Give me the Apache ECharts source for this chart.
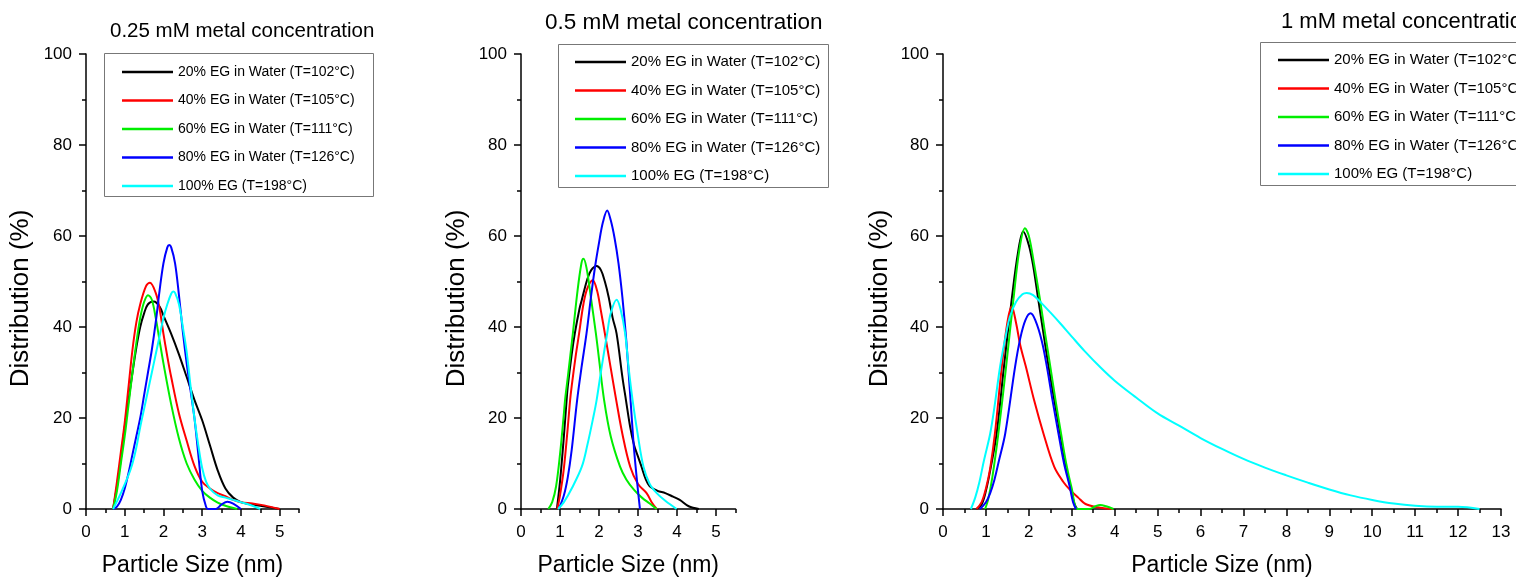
<!DOCTYPE html>
<html>
<head>
<meta charset="utf-8">
<script src="https://cdn.jsdelivr.net/npm/echarts@6/dist/echarts.min.js"></script>
<style>
html,body{margin:0;padding:0;background:#fff;}
#chart{width:1516px;height:578px;}
</style>
</head>
<body>
<div id="chart"></div>
<script>
// ---------- DATA ----------
const seriesNames = [
  '20% EG in Water (T=102\u00B0C)',
  '40% EG in Water (T=105\u00B0C)',
  '60% EG in Water (T=111\u00B0C)',
  '80% EG in Water (T=126\u00B0C)',
  '100% EG (T=198\u00B0C)'
];
const seriesColors = ['#000000', '#ff0000', '#00ee00', '#0000ff', '#00ffff'];
const panelTitles = ['0.25 mM metal concentration', '0.5 mM metal concentration', '1 mM metal concentration'];
const xAxisName = 'Particle Size (nm)';
const yAxisName = 'Distribution (%)';
const xTicksSmall = [0, 1, 2, 3, 4, 5];
const xMinorSmall = [0.5, 1.5, 2.5, 3.5, 4.5, 5.5];

// 0.25 mM
const p1_EG20 = [[0.7,0],[0.8,5],[0.9,11],[1.0,18],[1.1,24],[1.2,30],[1.3,35.5],[1.4,40],[1.5,43],[1.6,45],[1.75,45.6],[1.9,44.5],[2.0,42.5],[2.2,38.5],[2.4,34],[2.6,29],[2.8,24],[3.0,19.5],[3.2,14],[3.4,8.5],[3.6,4.5],[3.8,2.5],[4.0,1.5],[4.2,1.1],[4.5,0.7],[4.8,0.3],[5.0,0]];
const p1_EG40 = [[0.7,0],[0.8,6],[0.9,12.5],[1.0,19],[1.1,27],[1.2,35],[1.3,41],[1.4,45],[1.55,49],[1.65,49.7],[1.8,47.5],[1.9,44],[2.0,38.5],[2.1,33.5],[2.2,29],[2.4,21],[2.6,15],[2.8,9.5],[3.0,6],[3.2,4.5],[3.4,3.5],[3.6,2.8],[3.8,2],[4.0,1.5],[4.3,1.2],[4.6,0.8],[5.0,0]];
const p1_EG60 = [[0.7,0],[0.8,4],[0.9,10],[1.0,16],[1.1,23],[1.2,30],[1.3,36.5],[1.4,42],[1.5,45.5],[1.6,47],[1.7,46],[1.8,42],[1.9,37],[2.0,32],[2.2,23],[2.4,15.5],[2.6,10],[2.8,6.5],[3.0,4],[3.2,2.5],[3.4,1.4],[3.6,0.7],[3.9,0]];
const p1_EG80 = [[0.7,0],[0.8,0.5],[0.9,2],[1.0,4.5],[1.1,8],[1.2,12],[1.3,16],[1.4,20],[1.5,25],[1.6,30],[1.7,35],[1.8,41],[1.9,48],[2.0,54],[2.1,57.5],[2.15,58],[2.2,57.5],[2.3,54],[2.4,47],[2.5,39],[2.6,32],[2.7,26],[2.8,20],[2.9,12],[3.0,4],[3.1,0.5],[3.15,0],[3.35,0],[3.5,1],[3.65,1.6],[3.8,1.2],[4.0,0]];
const p1_EG100 = [[0.7,0],[0.9,3.5],[1.1,7.5],[1.2,10],[1.3,13.5],[1.4,18],[1.5,22],[1.6,26],[1.7,30],[1.8,34],[1.9,38],[2.0,42],[2.1,45],[2.2,47.3],[2.25,47.8],[2.3,47.5],[2.4,45],[2.5,40],[2.6,34.5],[2.7,27],[2.8,20],[2.9,14],[3.0,9],[3.1,6],[3.2,4.5],[3.4,3],[3.6,2.5],[3.8,2],[4.0,1.5],[4.2,1],[4.5,0]];

// 0.5 mM
const p2_EG20 = [[0.92,0],[1.0,6],[1.1,16],[1.17,24],[1.2,27],[1.3,34],[1.38,38.6],[1.5,44],[1.56,46],[1.7,50.5],[1.8,52.5],[1.94,53.4],[2.05,52.5],[2.15,50],[2.25,46.5],[2.35,42],[2.45,38.6],[2.6,29],[2.69,24],[2.8,18],[2.9,14],[3.0,11.5],[3.09,9.3],[3.2,6.5],[3.3,5],[3.5,4],[3.7,3.5],[3.9,2.7],[4.07,2],[4.3,0.6],[4.56,0]];
const p2_EG40 = [[0.93,0],[1.0,3],[1.1,9],[1.2,18],[1.26,24],[1.3,27],[1.4,33.5],[1.49,38.6],[1.6,45],[1.7,48.5],[1.84,50.3],[1.95,48],[2.05,43.5],[2.15,38.6],[2.3,31],[2.44,24],[2.6,16.5],[2.8,9.3],[3.0,5.5],[3.22,3.5],[3.35,1.5],[3.48,0]];
const p2_EG60 = [[0.7,0],[0.8,1.5],[0.9,5],[1.0,12],[1.1,21],[1.13,24],[1.2,29],[1.33,38.6],[1.45,48],[1.55,54],[1.6,55],[1.68,53],[1.8,46],[1.92,38.6],[2.0,33],[2.13,24],[2.3,16],[2.54,9.3],[2.7,6.5],[2.9,4.2],[3.1,2.5],[3.3,1.2],[3.48,0]];
const p2_EG80 = [[0.97,0],[1.1,3],[1.2,7],[1.3,13],[1.44,24],[1.55,31],[1.68,38.6],[1.8,47],[1.9,53.3],[2.0,58.5],[2.1,63],[2.21,65.6],[2.3,63.5],[2.4,59.5],[2.5,54],[2.6,46.5],[2.7,37],[2.8,25],[2.9,13],[3.0,4],[3.05,0]];
const p2_EG100 = [[0.95,0],[1.1,1.5],[1.3,4.5],[1.56,9.3],[1.7,14],[1.85,20],[1.94,24],[2.07,31.3],[2.21,38.6],[2.3,43],[2.45,46],[2.55,44],[2.67,38.6],[2.76,31],[2.86,24],[3.0,16],[3.14,9.3],[3.3,5.5],[3.48,3.5],[3.7,1.8],[3.99,0]];

// 1 mM
const p3_EG20 = [[0.78,0],[0.9,1],[1.0,4],[1.1,8.5],[1.25,16.6],[1.42,31.3],[1.6,46],[1.75,56.5],[1.87,61],[2.0,58],[2.1,53.5],[2.22,46],[2.35,38],[2.46,31.3],[2.6,23.5],[2.73,16.6],[2.85,10],[2.95,5.6],[3.05,1.5],[3.12,0]];
const p3_EG40 = [[0.78,0],[0.9,1.5],[1.0,4.5],[1.1,9],[1.21,16.6],[1.37,31.3],[1.5,41],[1.6,44.5],[1.7,41],[1.8,36],[1.93,31.3],[2.12,24],[2.34,16.6],[2.59,9.3],[2.8,6],[2.96,4.2],[3.15,2.5],[3.32,1.1],[3.6,0.4],[3.96,0]];
const p3_EG60 = [[0.98,0],[1.05,2],[1.15,7],[1.29,16.6],[1.47,31.3],[1.64,46],[1.78,57],[1.91,61.7],[2.0,60],[2.12,54],[2.26,46],[2.38,38.5],[2.5,31.3],[2.62,24],[2.75,16.6],[2.87,10],[3.0,4.5],[3.14,0],[3.41,0],[3.55,0.6],[3.66,0.9],[3.8,0.6],[3.97,0]];
const p3_EG80 = [[0.86,0],[1.0,1.5],[1.1,3.5],[1.2,6.5],[1.3,10.5],[1.45,16.6],[1.68,31.3],[1.8,37.5],[1.92,41.5],[2.04,43],[2.15,41.5],[2.3,37],[2.42,31.3],[2.55,24],[2.69,16.6],[2.82,10],[2.95,5],[3.03,1.5],[3.1,0]];
const p3_EG100 = [[0.65,0],[0.75,2.5],[0.85,6],[0.95,10.5],[1.1,16.6],[1.2,22.5],[1.33,31.3],[1.45,37.5],[1.56,42.3],[1.7,45.5],[1.85,47.2],[1.95,47.5],[2.1,47],[2.3,45.2],[2.5,43.2],[2.75,40.6],[3.0,37.9],[3.3,34.7],[3.66,31.2],[4.0,28.2],[4.5,24.5],[5.0,21],[5.5,18.3],[6.0,15.6],[6.5,13.2],[7.0,11],[7.5,9.1],[8.0,7.4],[8.5,5.8],[9.0,4.3],[9.5,3],[10.0,2],[10.5,1.2],[11.0,0.7],[11.5,0.5],[12.0,0.5],[12.5,0]];

const panelData = [
  [p1_EG20, p1_EG40, p1_EG60, p1_EG80, p1_EG100],
  [p2_EG20, p2_EG40, p2_EG60, p2_EG80, p2_EG100],
  [p3_EG20, p3_EG40, p3_EG60, p3_EG80, p3_EG100]
];

// ---------- LAYOUT ----------
const FONT = '"Liberation Sans", Arial, sans-serif';
const AXC = '#000';
const grids = [
  {left: 86, top: 54, width: 213, height: 455},
  {left: 521, top: 54, width: 214.5, height: 455},
  {left: 943, top: 54, width: 558, height: 455}
];
const yNameGaps = [52, 51, 50];
const titleCfg = [
  {left: 110, top: 21, size: 20.5},
  {left: 545, top: 11, size: 22.5},
  {left: 1281, top: 11, size: 22}
];
const legendCfg = [
  {left: 122, top: 65, size: 14, gap: 14.5, box: [104, 53, 269, 143]},
  {left: 575, top: 54.5, size: 15, gap: 13.5, box: [558, 44, 270, 143]},
  {left: 1278, top: 52.5, size: 15, gap: 13.5, box: [1260, 42, 280, 143]}
];

const xAxes = [];
const xMainIdx = [];
function baseX(gi) {
  return {
    type: 'value', gridIndex: gi, position: 'bottom', min: 0,
    name: '', splitLine: {show: false},
    axisLine: {show: true, onZero: false, lineStyle: {color: AXC, width: 1.5}},
  };
}
const xNameStyle = {fontFamily: FONT, fontSize: 23, color: '#000'};
for (let gi = 0; gi < 2; gi++) {
  const main = baseX(gi);
  main.max = 5.5;
  main.interval = 0.5;
  main.name = xAxisName;
  main.nameLocation = 'middle';
  main.nameGap = 45;
  main.nameTextStyle = xNameStyle;
  main.axisTick = {show: true, customValues: xTicksSmall, length: 7, lineStyle: {color: AXC, width: 1.5}};
  main.axisLabel = {show: true, customValues: xTicksSmall, margin: 15, fontFamily: FONT, fontSize: 17, color: '#000',
    formatter: v => (Math.abs(v - Math.round(v)) < 1e-9 ? String(Math.round(v)) : '')};
  xMainIdx.push(xAxes.length);
  xAxes.push(main);
  const minor = baseX(gi);
  minor.max = 5.5;
  minor.interval = 0.5;
  minor.axisLine = {show: false};
  minor.axisLabel = {show: false};
  minor.axisTick = {show: true, customValues: xMinorSmall, length: 4, lineStyle: {color: AXC, width: 1.5}};
  xAxes.push(minor);
}
{
  const main = baseX(2);
  main.max = 13;
  main.interval = 1;
  main.name = xAxisName;
  main.nameLocation = 'middle';
  main.nameGap = 45;
  main.nameTextStyle = xNameStyle;
  main.axisTick = {show: true, length: 7, lineStyle: {color: AXC, width: 1.5}};
  main.minorTick = {show: true, splitNumber: 2, length: 4, lineStyle: {color: AXC, width: 1.5}};
  main.axisLabel = {show: true, margin: 15, fontFamily: FONT, fontSize: 17, color: '#000'};
  xMainIdx.push(xAxes.length);
  xAxes.push(main);
}

const yAxes = grids.map((g, gi) => ({
  type: 'value', gridIndex: gi, min: 0, max: 100, interval: 20,
  name: yAxisName, nameLocation: 'middle', nameGap: yNameGaps[gi],
  nameMoveOverlap: false,
  nameTextStyle: {fontFamily: FONT, fontSize: 26, color: '#000', padding: [0, 34, 0, 0]},
  splitLine: {show: false},
  axisLine: {show: true, onZero: false, lineStyle: {color: AXC, width: 1.5}},
  axisTick: {show: true, length: 7, lineStyle: {color: AXC, width: 1.5}},
  minorTick: {show: true, splitNumber: 2, length: 4, lineStyle: {color: AXC, width: 1.5}},
  axisLabel: {margin: 14, fontFamily: FONT, fontSize: 17, color: '#000'}
}));

const series = [];
panelData.forEach((arrs, gi) => {
  arrs.forEach((d, si) => {
    series.push({
      type: 'line', name: seriesNames[si], xAxisIndex: xMainIdx[gi], yAxisIndex: gi,
      data: d, smooth: 0.35, symbol: 'none', clip: true,
      lineStyle: {color: seriesColors[si], width: 2},
      itemStyle: {color: seriesColors[si]},
      z: 2 + si
    });
  });
});

const titles = panelTitles.map((t, i) => ({
  text: t, left: titleCfg[i].left, top: titleCfg[i].top, padding: 0,
  textStyle: {fontFamily: FONT, fontSize: titleCfg[i].size, fontWeight: 'normal', color: '#000'}
}));

const legends = legendCfg.map(c => ({
  orient: 'vertical', left: c.left, top: c.top, padding: 0,
  icon: 'rect', itemWidth: 51, itemHeight: 2.5, itemGap: c.gap,
  selectedMode: false,
  data: seriesNames.map((n, i) => ({name: n, itemStyle: {color: seriesColors[i]}})),
  textStyle: {fontFamily: FONT, fontSize: c.size, color: '#000', lineHeight: c.size}
}));

const graphics = legendCfg.map(c => ({
  type: 'rect', left: c.box[0], top: c.box[1], z: 0,
  shape: {width: c.box[2], height: c.box[3]},
  style: {fill: '#fff', stroke: '#777', lineWidth: 1}
}));

const chart = echarts.init(document.getElementById('chart'), null, {renderer: 'canvas'});
chart.setOption({
  animation: false,
  backgroundColor: '#fff',
  title: titles,
  legend: legends,
  graphic: graphics,
  grid: grids.map(g => Object.assign({outerBoundsMode: 'none', containLabel: false}, g)),
  xAxis: xAxes,
  yAxis: yAxes,
  series: series
});
</script>
</body>
</html>
